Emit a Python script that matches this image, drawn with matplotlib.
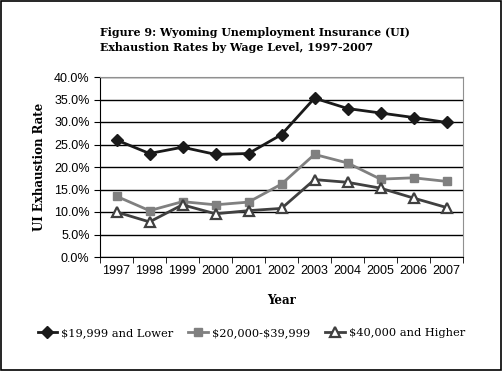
import matplotlib
matplotlib.use("Agg")
import matplotlib.pyplot as plt
from matplotlib.ticker import FixedLocator, FuncFormatter
from matplotlib.patches import Rectangle

years = ["1997", "1998", "1999", "2000", "2001", "2002", "2003", "2004", "2005", "2006", "2007"]
low = [26.0, 23.0, 24.4, 22.8, 23.0, 27.2, 35.3, 33.0, 32.0, 31.0, 29.9]
mid = [13.5, 10.3, 12.3, 11.6, 12.2, 16.2, 22.8, 20.9, 17.3, 17.6, 16.8]
high = [10.0, 7.8, 11.6, 9.6, 10.3, 10.8, 17.2, 16.6, 15.3, 13.1, 11.0]
labels = [r"\$19,999 and Lower", r"\$20,000-\$39,999", r"\$40,000 and Higher"]

serif = "DejaVu Serif"
sans = "Liberation Sans"

fig = plt.figure(figsize=(5.03, 3.71), dpi=100)
ax = fig.add_axes([100/503, 1-257/371, 363/503, 180/371])
x = list(range(len(years)))
ax.plot(x, low, color="#1a1a1a", lw=2.0, marker="D", ms=6, mec="#1a1a1a", mfc="#1a1a1a", label=labels[0], zorder=5)
ax.plot(x, mid, color="#808080", lw=2.0, marker="s", ms=6, mec="#808080", mfc="#808080", label=labels[1], zorder=4)
ax.plot(x, high, color="#404040", lw=2.0, marker="^", ms=7, mec="#404040", mfc="white", mew=1.6, label=labels[2], zorder=6)

ax.set_xlim(-0.5, 10.5)
ax.set_ylim(0, 40)
ax.set_yticks([0, 5, 10, 15, 20, 25, 30, 35, 40])
ax.yaxis.set_major_formatter(FuncFormatter(lambda v, p: f"{v:.1f}%"))
ax.grid(axis="y", color="black", lw=1)
ax.set_axisbelow(True)
ax.set_xticks(x)
ax.set_xticklabels(years, fontfamily=sans, fontsize=9)
ax.tick_params(axis="x", which="major", length=0, pad=6)
ax.xaxis.set_minor_locator(FixedLocator([i - 0.5 for i in range(12)]))
ax.tick_params(axis="x", which="minor", length=4, color="black")
ax.tick_params(axis="y", length=4, labelsize=9)
for t in ax.get_yticklabels():
    t.set_fontfamily(sans)
ax.spines["top"].set_color("#909090")
ax.spines["right"].set_color("#909090")
ax.spines["left"].set_color("black")
ax.spines["bottom"].set_color("black")

ax.set_ylabel("UI Exhaustion Rate", fontfamily=serif, fontweight="bold", fontsize=8.5, labelpad=6)
ax.set_xlabel("Year", fontfamily=serif, fontweight="bold", fontsize=8.5, labelpad=12)

fig.text(100/503, 1-40/371, "Figure 9: Wyoming Unemployment Insurance (UI)\nExhaustion Rates by Wage Level, 1997-2007",
         fontfamily=serif, fontweight="bold", fontsize=7.9, va="center", ha="left", linespacing=1.35)

fig.legend(loc="center", bbox_to_anchor=(0.5, 1-333/371), ncol=3, frameon=False,
           prop={"family": serif, "size": 8.2}, handlelength=1.7, columnspacing=1.3, handletextpad=0.4)

fig.patches.append(Rectangle((0.002, 0.003), 0.994, 0.994, transform=fig.transFigure,
                             fill=False, ec="black", lw=1.2))
fig.savefig("out.png", dpi=100)
